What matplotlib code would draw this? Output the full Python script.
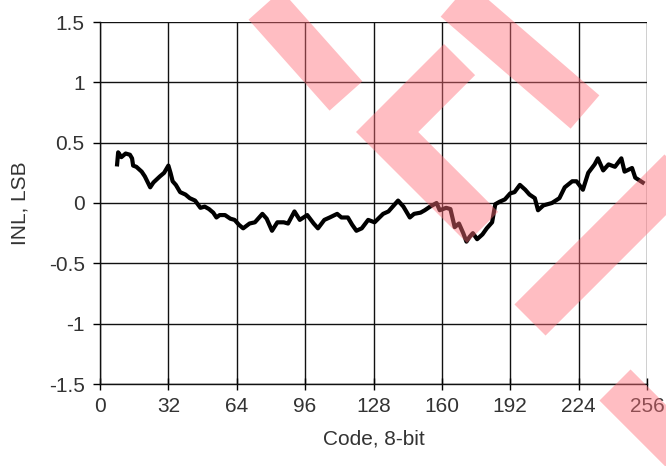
import numpy as np
import matplotlib.pyplot as plt
from matplotlib.patches import Polygon

plt.rcParams['font.family'] = ['Liberation Sans', 'DejaVu Sans']

# INL curve (code, LSB)
codes = [8, 8.5, 10, 12, 14, 15, 15.5, 17, 19.5, 21, 23.5, 25, 28, 30, 32, 33, 34,
         35.5, 37.5, 40, 42, 44.5, 47, 49, 51, 53, 54.5, 56, 58.5, 61, 63, 65, 67,
         70, 72.5, 76, 78, 80.5, 83, 86, 88, 91, 93.5, 97, 100, 102, 105, 107.5,
         111, 113, 116, 118, 120, 122.5, 125.5, 128.5, 132.5, 135, 137, 139.5, 142,
         145, 147, 150, 152, 154.5, 157.5, 159, 162, 164, 166, 168, 170, 171.5, 173,
         174.5, 176.5, 179, 181, 183.5, 185, 187, 189.5, 192, 194, 196.5, 199, 201,
         203.5, 205, 207.5, 211.5, 215, 217.5, 221, 223, 226, 228.5, 231.5, 233,
         235.5, 238, 241, 244, 245.5, 249, 250.5, 254]
inl = [0.32, 0.42, 0.38, 0.41, 0.40, 0.37, 0.31, 0.30, 0.26, 0.22, 0.13, 0.17, 0.22,
       0.25, 0.31, 0.25, 0.18, 0.15, 0.09, 0.07, 0.04, 0.02, -0.04, -0.03, -0.05,
       -0.08, -0.12, -0.10, -0.10, -0.13, -0.14, -0.18, -0.21, -0.17, -0.16, -0.09,
       -0.13, -0.23, -0.16, -0.16, -0.17, -0.07, -0.14, -0.10, -0.17, -0.21, -0.14,
       -0.12, -0.09, -0.12, -0.12, -0.18, -0.23, -0.21, -0.14, -0.16, -0.09, -0.07,
       -0.03, 0.02, -0.03, -0.12, -0.09, -0.08, -0.06, -0.03, 0.0, -0.06, -0.04,
       -0.05, -0.20, -0.17, -0.25, -0.32, -0.28, -0.25, -0.30, -0.26, -0.21, -0.16,
       -0.01, 0.01, 0.03, 0.08, 0.09, 0.15, 0.11, 0.07, 0.04, -0.06, -0.02, 0.0,
       0.04, 0.13, 0.18, 0.18, 0.11, 0.25, 0.32, 0.37, 0.27, 0.32, 0.30, 0.37, 0.26,
       0.29, 0.21, 0.17]

x_ticks = [0, 32, 64, 96, 128, 160, 192, 224, 256]
y_ticks = [-1.5, -1, -0.5, 0, 0.5, 1, 1.5]
y_labels = ['-1.5', '-1', '-0.5', '0', '0.5', '1', '1.5']

W, H = 666, 466
fig = plt.figure(figsize=(W / 100, H / 100), dpi=100)
ax = fig.add_axes([100 / W, 1 - 384 / H, 547 / W, 362 / H])

ax.plot(codes, inl, color='black', lw=3.0, solid_joinstyle='round')

ax.set_xlim(0, 256)
ax.set_ylim(-1.5, 1.5)
ax.set_xticks(x_ticks)
ax.set_yticks(y_ticks)
ax.set_yticklabels(y_labels)
ax.grid(True, color='#111111', lw=1.0)
ax.set_axisbelow(True)
for side in ['top', 'right']:
    ax.spines[side].set_visible(False)
for side in ['left', 'bottom']:
    ax.spines[side].set_color('#111111')
    ax.spines[side].set_linewidth(1.0)
ax.tick_params(axis='x', direction='inout', length=8, width=1.0, pad=5,
               labelsize=15, labelcolor='#333333')
ax.tick_params(axis='y', direction='out', length=5, width=1.0, pad=6,
               labelsize=15, labelcolor='#333333')
ax.set_xlabel('Code, 8-bit', fontsize=15, color='#333333', labelpad=10)
ax.set_ylabel('INL, LSB', fontsize=15, color='#333333', labelpad=14)


# pink watermark (pixel coords of the picture)
def add_shape(pts):
    pts = [(x / W, 1 - y / H) for x, y in pts]
    fig.patches.append(Polygon(pts, closed=True, transform=fig.transFigure,
                               facecolor='#ff6e78', edgecolor='none', alpha=0.45,
                               zorder=10))


def band(p0, p1, w=44):
    p0, p1 = np.array(p0, float), np.array(p1, float)
    d = (p1 - p0) / np.hypot(*(p1 - p0))
    n = np.array([-d[1], d[0]]) * w / 2
    add_shape([p0 + n, p1 + n, p1 - n, p0 - n])


def chevron(tip, up, down, w=44):
    t = np.array(tip, float)
    s = w / np.sqrt(2)
    add_shape([t, t + (up, -up), t + (up + s, -up + s), t + (2 * s, 0),
               t + (down + s, down - s), t + (down, down)])


band((265, 5), (346, 96))
chevron((356, 132), 88, 111)
band((455, 0), (585, 112))
band((530, 320), (680, 170))
band((615, 385), (690, 460))

fig.savefig('out.png', dpi=100)
